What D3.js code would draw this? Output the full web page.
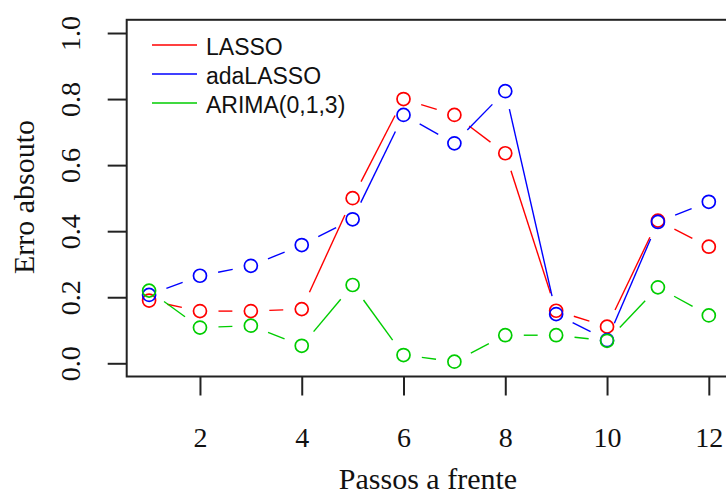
<!DOCTYPE html>
<html>
<head>
<meta charset="utf-8">
<script src="https://cdn.jsdelivr.net/npm/d3@7"></script>
<style>
body { margin: 0; background: #fff; }
svg { display: block; }
</style>
</head>
<body>
<div id="chart"></div>
<script>
// data
var steps = [1,2,3,4,5,6,7,8,9,10,11,12];
var lasso    = [0.19,0.158,0.158,0.164,0.50,0.80,0.752,0.636,0.159,0.111,0.432,0.353];
var adaLasso = [0.207,0.265,0.295,0.358,0.436,0.752,0.666,0.824,0.149,0.07,0.428,0.489];
var arima    = [0.22,0.108,0.114,0.053,0.237,0.025,0.005,0.085,0.085,0.068,0.23,0.145];
var seriesNames = ["LASSO","adaLASSO","ARIMA(0,1,3)"];
var seriesColors = ["#ff0000","#0000ff","#00cd00"];
var xTicks = [2,4,6,8,10,12];
var yTicks = [0,0.2,0.4,0.6,0.8,1.0];

var W = 726, H = 495;
var svg = d3.select("#chart").append("svg")
    .attr("width", W).attr("height", H);

// R style: limits padded by 4%
var x = d3.scaleLinear().domain([0.56, 12.44]).range([126.7, 731.2]);
var y = d3.scaleLinear().domain([-0.04, 1.04]).range([376.5, 19.8]);

var series = [lasso, adaLasso, arima];
var gap = 18.5;

series.forEach(function(vals, i) {
    var pts = vals.map(function(v, j) { return [x(steps[j]), y(v)]; });
    var g = svg.append("g");
    // type="b": segments with a gap around each point
    for (var j = 0; j < pts.length - 1; j++) {
        var a = pts[j], b = pts[j+1];
        var dx = b[0]-a[0], dy = b[1]-a[1];
        var len = Math.sqrt(dx*dx+dy*dy);
        if (len <= 2*gap) continue;
        var ux = dx/len, uy = dy/len;
        g.append("line")
            .attr("x1", a[0]+ux*gap).attr("y1", a[1]+uy*gap)
            .attr("x2", b[0]-ux*gap).attr("y2", b[1]-uy*gap)
            .attr("stroke", seriesColors[i])
            .attr("stroke-width", 1.4);
    }
    g.selectAll("circle").data(vals).enter().append("circle")
        .attr("cx", function(d, j) { return x(steps[j]); })
        .attr("cy", function(d) { return y(d); })
        .attr("r", 6.5)
        .attr("fill", "none")
        .attr("stroke", seriesColors[i])
        .attr("stroke-width", 1.7);
});

// box
svg.append("rect")
    .attr("x", 126.7).attr("y", 19.8)
    .attr("width", 731.2-126.7).attr("height", 376.5-19.8)
    .attr("fill", "none").attr("stroke", "#222").attr("stroke-width", 2);

// x axis
var xAxis = svg.append("g")
    .attr("transform", "translate(0,376.5)")
    .call(d3.axisBottom(x).tickValues(xTicks).tickSize(19).tickSizeOuter(0));
xAxis.select(".domain").remove();
xAxis.selectAll("line").attr("stroke", "#222").attr("stroke-width", 2);
xAxis.selectAll("text")
    .attr("y", 70).attr("dy", 0)
    .attr("fill", "#111")
    .style("font-family", "'Liberation Serif', 'Times New Roman', serif")
    .style("font-size", "28px");

// y axis
var yAxis = svg.append("g")
    .attr("transform", "translate(126.7,0)")
    .call(d3.axisLeft(y).tickValues(yTicks).tickSize(19).tickSizeOuter(0).tickFormat(d3.format(".1f")));
yAxis.select(".domain").remove();
yAxis.selectAll("line").attr("stroke", "#222").attr("stroke-width", 2);
yAxis.selectAll("text")
    .attr("transform", "rotate(-90)")
    .attr("x", 0).attr("y", -46.5).attr("dy", 0)
    .attr("text-anchor", "middle")
    .attr("fill", "#111")
    .style("font-family", "'Liberation Serif', 'Times New Roman', serif")
    .style("font-size", "28px");

// axis titles
svg.append("text")
    .attr("x", 428).attr("y", 489)
    .attr("text-anchor", "middle")
    .style("font-family", "'Liberation Serif', 'Times New Roman', serif")
    .style("font-size", "30px")
    .attr("fill", "#111")
    .text("Passos a frente");
svg.append("text")
    .attr("transform", "translate(34,197) rotate(-90)")
    .attr("text-anchor", "middle")
    .style("font-family", "'Liberation Serif', 'Times New Roman', serif")
    .style("font-size", "30px")
    .attr("fill", "#111")
    .text("Erro absouto");

// legend
var legend = svg.append("g");
seriesNames.forEach(function(name, i) {
    var ly = 45 + i*29;
    legend.append("line")
        .attr("x1", 152).attr("x2", 197)
        .attr("y1", ly).attr("y2", ly)
        .attr("stroke", seriesColors[i]).attr("stroke-width", 1.6);
    legend.append("text")
        .attr("x", 206).attr("y", ly + 9.5)
        .style("font-family", "'Liberation Sans', Arial, sans-serif")
        .style("font-size", "23px")
        .attr("fill", "#111")
        .text(name);
});
</script>
</body>
</html>
